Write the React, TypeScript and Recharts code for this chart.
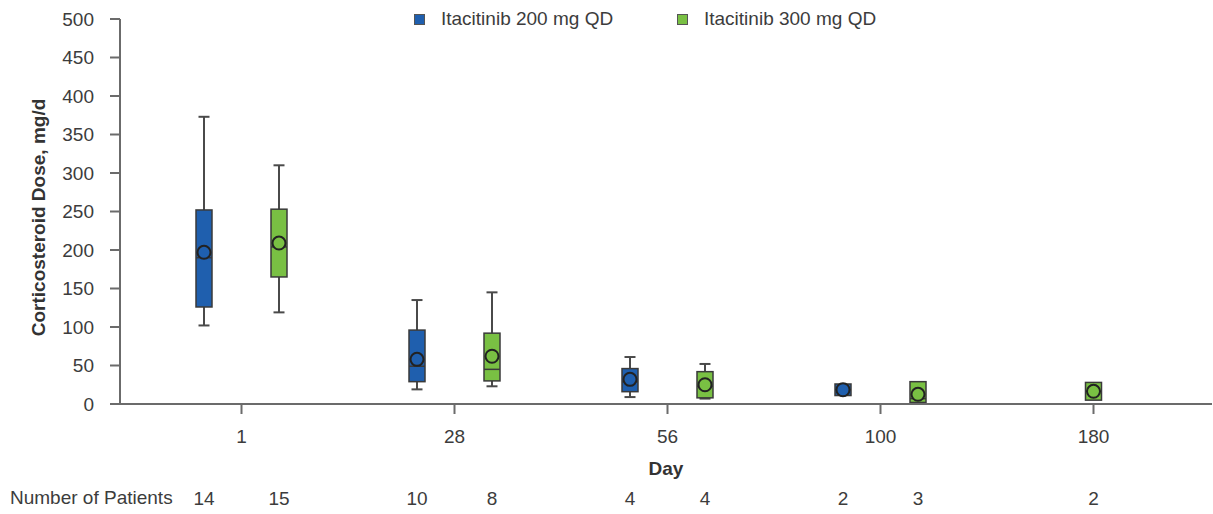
import React from 'react';
import { ComposedChart, Bar, XAxis, YAxis } from 'recharts';

// ---- data ----
const days = ['1', '28', '56', '100', '180'];
const yTicks = [0, 50, 100, 150, 200, 250, 300, 350, 400, 450, 500];

const series200Name = 'Itacitinib 200 mg QD';
const min200 = [102, 19, 9, 11, null];
const q1_200 = [126, 29, 16, 11, null];
const median200 = [190, 49, 29, 18.5, null];
const mean200 = [197, 58, 32, 18.5, null];
const q3_200 = [252, 96, 46, 26, null];
const max200 = [373, 135, 61, 26, null];
const n200 = [14, 10, 4, 2, null];

const series300Name = 'Itacitinib 300 mg QD';
const min300 = [119, 23, 7, 2, 5];
const q1_300 = [165, 30, 8, 2, 5];
const median300 = [204, 45, 23, 7, 16.5];
const mean300 = [209, 62, 25, 12.6, 16.5];
const q3_300 = [253, 92, 42, 29, 28];
const max300 = [310, 145, 52, 29, 28];
const n300 = [15, 8, 4, 3, 2];

const BLUE = '#1f5fae';
const GREEN = '#79c043';
const DARK = '#3a3a3a';
const AXIS = '#6b6b6b';
const TEXT = '#3c3c3c';
const FONT = '"Liberation Sans", Arial, sans-serif';
const FS = 19;

const BAR_SIZE = 16;
const BAR_GAP = 59;

type Stats = { min: number; q1: number; median: number; mean: number; q3: number; max: number; n: number };

const mk = (i: number, mn: any[], a: any[], md: any[], me: any[], b: any[], mx: any[], n: any[]): Stats | null =>
  mn[i] == null ? null : { min: mn[i], q1: a[i], median: md[i], mean: me[i], q3: b[i], max: mx[i], n: n[i] };

const data = days.map((day, i) => ({
  day,
  s200: mk(i, min200, q1_200, median200, mean200, q3_200, max200, n200),
  s300: mk(i, min300, q1_300, median300, mean300, q3_300, max300, n300),
}));

function BoxShape(props: any) {
  const { x, y, width, height, payload, seriesKey, color } = props;
  const s: Stats | null = payload ? payload[seriesKey] : null;
  if (!s || height == null || isNaN(height)) return null;
  const top = Math.min(y, y + height);
  const h = Math.abs(height);
  const k = h / (s.max - s.min);
  const toY = (v: number) => top + (s.max - v) * k;
  let cx = x + width / 2;
  if (seriesKey === 's300' && !payload.s200) cx -= (BAR_SIZE + BAR_GAP) / 2;
  const bw = BAR_SIZE;
  const cap = 11;
  const y0 = toY(0);
  return (
    <g>
      {s.max > s.q3 && (
        <g>
          <line x1={cx} x2={cx} y1={toY(s.max)} y2={toY(s.q3)} stroke="#4a4a4a" strokeWidth={2} />
          <line x1={cx - cap / 2} x2={cx + cap / 2} y1={toY(s.max)} y2={toY(s.max)} stroke="#4a4a4a" strokeWidth={2} />
        </g>
      )}
      {s.min < s.q1 && (
        <g>
          <line x1={cx} x2={cx} y1={toY(s.q1)} y2={toY(s.min)} stroke="#4a4a4a" strokeWidth={2} />
          <line x1={cx - cap / 2} x2={cx + cap / 2} y1={toY(s.min)} y2={toY(s.min)} stroke="#4a4a4a" strokeWidth={2} />
        </g>
      )}
      <rect x={cx - bw / 2} y={toY(s.q3)} width={bw} height={toY(s.q1) - toY(s.q3)} fill={color} stroke={DARK} strokeWidth={1.5} />
      <line x1={cx - bw / 2} x2={cx + bw / 2} y1={toY(s.median)} y2={toY(s.median)} stroke={DARK} strokeWidth={1.5} />
      <circle cx={cx} cy={toY(s.mean)} r={6.5} fill={color} stroke="#222" strokeWidth={2} />
      <text x={cx} y={y0 + 101} textAnchor="middle" fontSize={FS} fill={TEXT} fontFamily={FONT}>
        {s.n}
      </text>
    </g>
  );
}

const YLabel = (props: any) => {
  const vb = props.viewBox || {};
  const cx = (vb.x ?? 0) + 38;
  const cy = (vb.y ?? 0) + (vb.height ?? 0) / 2 + 6;
  return (
    <text x={cx} y={cy} transform={`rotate(-90, ${cx}, ${cy})`} textAnchor="middle" dominantBaseline="central"
      fontSize={FS} fontWeight="bold" fill="#333" fontFamily={FONT}>
      Corticosteroid Dose, mg/d
    </text>
  );
};

export default function App() {
  React.useEffect(() => {
    document.body.style.margin = '0';
  }, []);
  const legendItem = (color: string, label: string, left: number) => (
    <div style={{ position: 'absolute', left, top: 8, display: 'flex', alignItems: 'center', fontFamily: FONT, fontSize: FS, color: TEXT, whiteSpace: 'nowrap', lineHeight: '22px' }}>
      <span style={{ display: 'inline-block', width: 11, height: 11, background: color, border: '1px solid #555', boxSizing: 'border-box', marginRight: 16 }} />
      <span>{label}</span>
    </div>
  );
  return (
    <div style={{ position: 'absolute', left: 0, top: 0, width: 1213, height: 514, background: '#fff' }}>
      <ComposedChart width={1213} height={514} data={data} margin={{ top: 19, right: 1, bottom: 0, left: 0 }}
        barSize={BAR_SIZE} barGap={BAR_GAP}>
        <XAxis dataKey="day" height={110} padding={{ left: 15, right: 12 }} stroke={AXIS} strokeWidth={2}
          tickSize={10} tickMargin={16} tick={{ fontSize: FS, fill: TEXT, fontFamily: FONT }}
          label={{ value: 'Day', position: 'insideBottom', offset: 39, style: { fontSize: FS, fontWeight: 'bold', fill: '#333', fontFamily: FONT } }} />
        <YAxis type="number" domain={[0, 500]} ticks={yTicks} width={120} stroke={AXIS} strokeWidth={2}
          tickSize={10} tickMargin={16} tick={{ fontSize: FS, fill: TEXT, fontFamily: FONT }} interval={0}
          label={<YLabel />} />
        <Bar dataKey={(d: any) => (d.s200 ? [d.s200.min, d.s200.max] : null)} name={series200Name} fill={BLUE}
          isAnimationActive={false} shape={(p: any) => <BoxShape {...p} seriesKey="s200" color={BLUE} />} />
        <Bar dataKey={(d: any) => (d.s300 ? [d.s300.min, d.s300.max] : null)} name={series300Name} fill={GREEN}
          isAnimationActive={false} shape={(p: any) => <BoxShape {...p} seriesKey="s300" color={GREEN} />} />
      </ComposedChart>
      {legendItem(BLUE, series200Name, 414)}
      {legendItem(GREEN, series300Name, 677)}
      <div style={{ position: 'absolute', left: 10, top: 487, fontFamily: FONT, fontSize: FS, color: TEXT, whiteSpace: 'nowrap', lineHeight: '22px' }}>
        Number of Patients
      </div>
    </div>
  );
}
